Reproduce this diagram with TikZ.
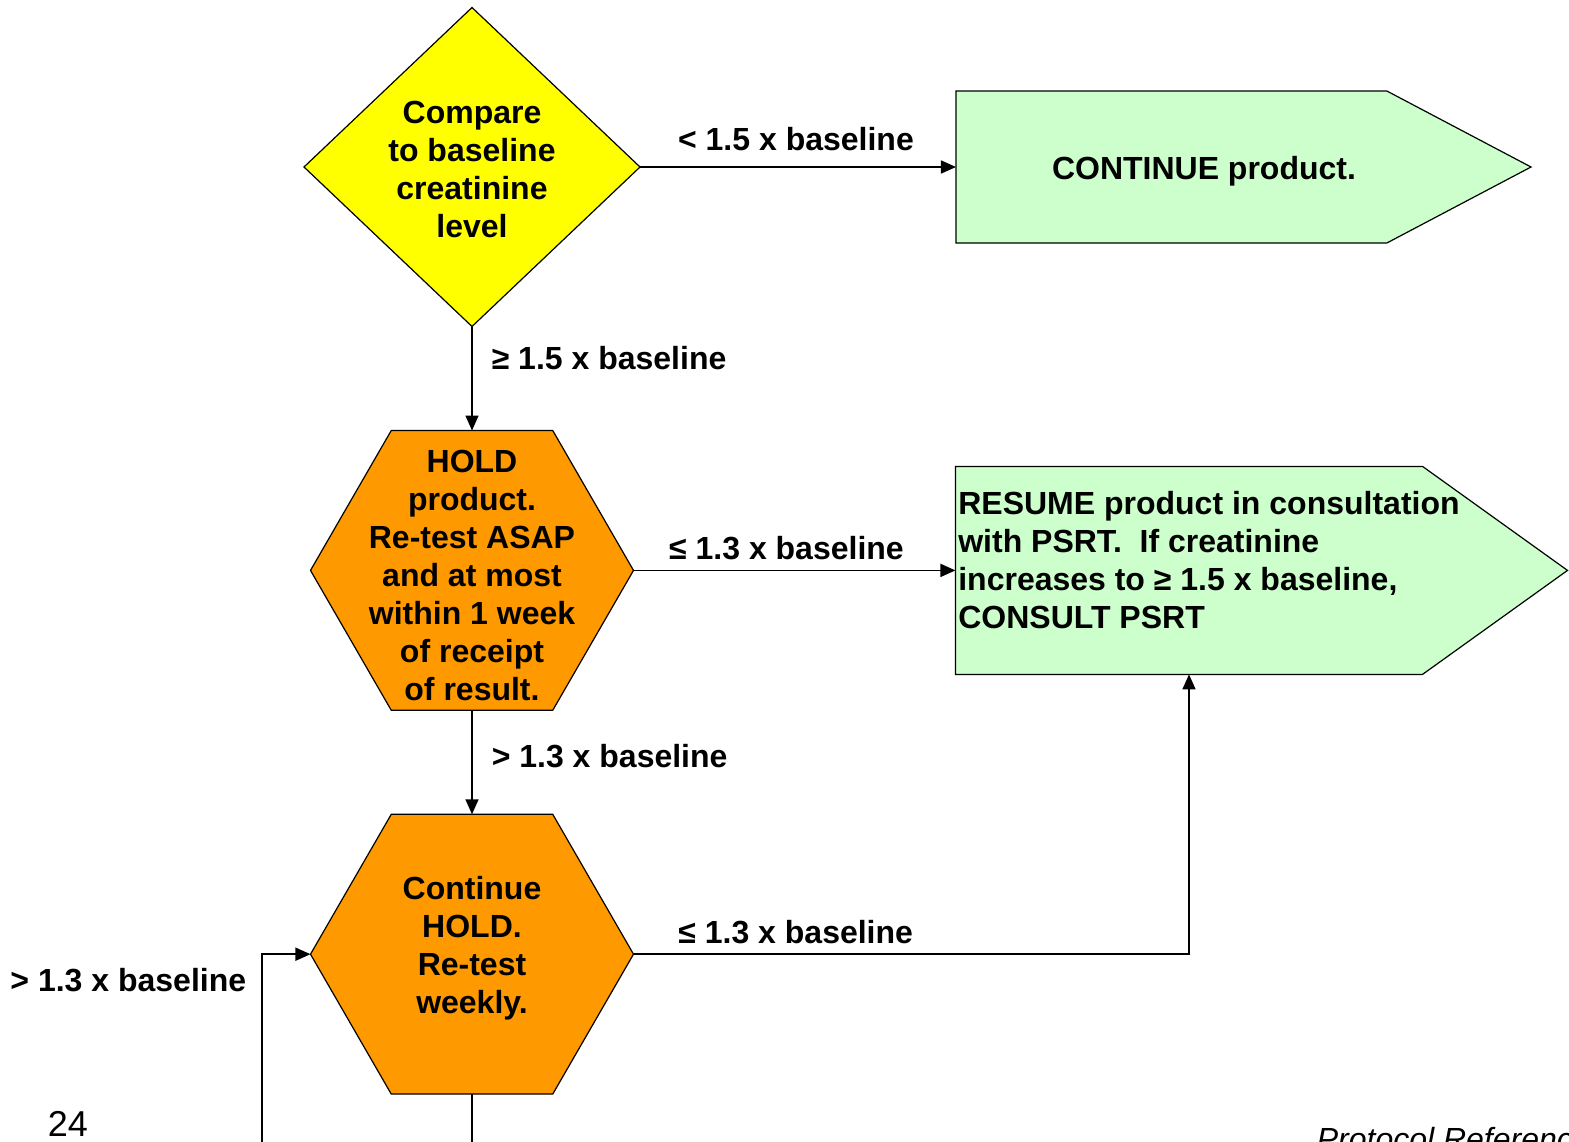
\documentclass[tikz,border=0pt]{standalone}
\usepackage{fontspec}
\setmainfont{Liberation Sans}
\usetikzlibrary{positioning,shapes.geometric,shapes.symbols,arrows.meta}

\definecolor{cmpyellow}{HTML}{FFFF00}
\definecolor{holdorange}{HTML}{FF9900}
\definecolor{actgreen}{HTML}{CCFFCC}

\begin{document}
\begin{tikzpicture}[x=0.5pt, y=-0.5pt, thick, >={Triangle[length=7.5pt,width=6.5pt]},
        every node/.style = {font=\bfseries\fontsize{16}{19}\selectfont},
        decide/.style = {draw, semithick, diamond, fill=cmpyellow, inner sep=0pt, outer sep=0pt, minimum width=168pt, minimum height=159.5pt, align=center},
        hold/.style = {draw, semithick, regular polygon, regular polygon sides=6, fill=holdorange, minimum size=161.5pt, inner sep=0pt, outer sep=0pt},
        act/.style = {draw, semithick, signal, signal to=east, fill=actgreen, inner sep=0pt, outer sep=0pt},
        txt/.style = {align=center, inner sep=0pt},
        cond/.style = {inner sep=0pt, anchor=base} ]
        \useasboundingbox (0,0) rectangle (1569,1141);
        \clip (0,0) rectangle (1569,1141);

        \node[decide] (cmp) at (472,167) {};
        \node[hold] (hold) [below = 52pt of cmp] {};
        \node[hold] (wait) [below = 52pt of hold] {};
        \node[act, minimum width=287.5pt, minimum height=76pt, signal pointer angle=55.6] (cont) [right = 158pt of cmp] {};
        \node[act, minimum width=306pt, minimum height=104pt, signal pointer angle=71.3] (resume) [right = 161pt of hold] {};

        \node[txt] (cmptxt) at ([yshift=-1pt]cmp.center) {Compare\\to baseline\\creatinine\\level};
        \node[txt] (holdtxt) at ([yshift=-2.5pt]hold.center) {HOLD\\product.\\Re-test ASAP\\and at most\\within 1 week\\of receipt\\of result.};
        \node[txt] (waittxt) at ([yshift=3pt]wait.center) {Continue\\HOLD.\\Re-test\\weekly.};
        \node[txt] (conttxt) at ([xshift=124pt, yshift=-2pt]cont.west) {CONTINUE product.};
        \node[txt, align=left, anchor=west] (resumetxt) at ([xshift=1pt, yshift=5pt]resume.west) {RESUME product in consultation\\with PSRT.\ \ If creatinine\\increases to ≥ 1.5 x baseline,\\CONSULT PSRT};

        \coordinate (loop) at (262,1170);

        \draw[->] (cmp) -- (cont) node [cond, midway, xshift=-1pt, yshift=8.25pt] {< 1.5 x baseline};
        \draw[->] (cmp) -- (hold) node [cond, midway, anchor=base west, xshift=9.5pt, yshift=4.75pt] {≥ 1.5 x baseline};
        \draw[->] (hold) -- (resume) node [cond, midway, xshift=-4pt, yshift=5.25pt] {≤ 1.3 x baseline};
        \draw[->] (hold) -- (wait) node [cond, midway, anchor=base west, xshift=9.5pt, yshift=-2.75pt] {> 1.3 x baseline};
        \draw[->] (wait.east) -| ([xshift=116.75pt]resume.south west) node [cond, pos=0.146, yshift=5.25pt] {≤ 1.3 x baseline};
        \draw[->] (wait.south) |- (loop) |- (wait.west);
        \node[cond, anchor=base east] (looplbl) at (247,991.5) {> 1.3 x baseline};

        \node[anchor=base west, inner sep=0pt, font=\mdseries\fontsize{18}{21}\selectfont] (page) at (47,1136) {24};
        \node[anchor=base west, inner sep=0pt, font=\mdseries\itshape\fontsize{16}{19}\selectfont] (ref) at (1316,1150) {Protocol Reference};

    \end{tikzpicture}
\end{document}
